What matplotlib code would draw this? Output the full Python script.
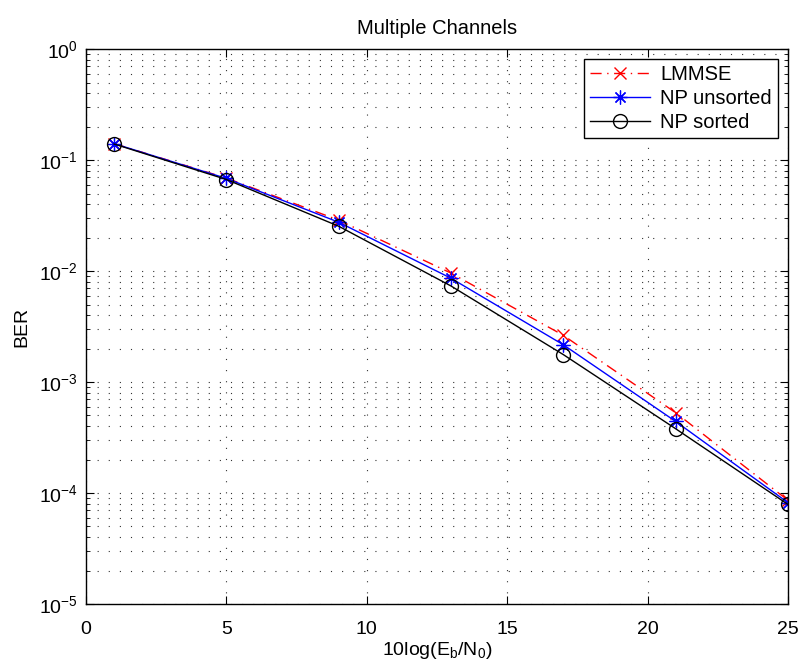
import matplotlib
matplotlib.use("Agg")
import matplotlib.pyplot as plt
from matplotlib.ticker import LogLocator, NullFormatter, FixedLocator

plt.rcParams['font.family'] = ['Liberation Sans', 'DejaVu Sans']
plt.rcParams['mathtext.fontset'] = 'custom'
plt.rcParams['mathtext.rm'] = 'Liberation Sans'
plt.rcParams['mathtext.it'] = 'Liberation Sans'

snr = [1, 5, 9, 13, 17, 21, 25]
ber_lmmse = [0.141, 0.069, 0.0288, 0.0096, 0.00264, 0.00053, 8.6e-5]
ber_np_unsorted = [0.141, 0.0685, 0.0276, 0.00863, 0.00217, 0.000442, 8.2e-5]
ber_np_sorted = [0.140, 0.067, 0.0254, 0.00735, 0.00177, 0.000380, 7.9e-5]
labels = ['LMMSE', 'NP unsorted', 'NP sorted']

fig = plt.figure(figsize=(8.04, 6.64), dpi=100)
ax = fig.add_axes([0.107, 0.0904, 0.873, 0.8354])

ax.semilogy(snr, ber_lmmse, color='red', linestyle='-.', marker='x', markersize=9,
            linewidth=1.0, markeredgewidth=1.0, label=labels[0],
            dashes=[8, 4, 1, 4])
ax.semilogy(snr, ber_np_unsorted, color='blue', linestyle='-', marker=(8, 2, 0), markersize=10,
            linewidth=1.0, markeredgewidth=0.9, label=labels[1])
ax.semilogy(snr, ber_np_sorted, color='black', linestyle='-', marker='o', markersize=10,
            linewidth=1.0, markeredgewidth=1.0, markerfacecolor='none', label=labels[2])

ax.set_xlim(0, 25)
ax.set_ylim(1e-5, 1e0)
ax.xaxis.set_major_locator(FixedLocator([0, 5, 10, 15, 20, 25]))
ax.yaxis.set_major_locator(LogLocator(base=10, numticks=10))
ax.yaxis.set_minor_locator(LogLocator(base=10, subs=range(2, 10), numticks=20))
ax.yaxis.set_minor_formatter(NullFormatter())

ax.grid(True, which='major', axis='both', linestyle=(0, (1, 9)), color='#333333', linewidth=0.8)
ax.grid(True, which='minor', axis='y', linestyle=(0, (1, 9)), color='#333333', linewidth=0.8)

ax.tick_params(which='both', direction='in', top=True, right=True, labelsize=14)
ax.tick_params(which='major', length=6, width=0.8)
ax.tick_params(which='minor', length=3, width=0.6)
ax.tick_params(axis='x', which='major', pad=12)
ax.tick_params(axis='y', which='major', pad=6)
for s in ax.spines.values():
    s.set_linewidth(1.0)

ax.set_title('Multiple Channels', fontsize=14.5, pad=11)
ax.set_xlabel(r'10log(E$_\mathregular{b}$/N$_\mathregular{0}$)', fontsize=14, labelpad=2)
ax.set_ylabel('BER', fontsize=14, labelpad=6)

leg = ax.legend(loc='upper right', fontsize=14.5, fancybox=False, framealpha=1,
                edgecolor='black', borderaxespad=0.5, handlelength=3.0,
                borderpad=0.3, labelspacing=0.25, handletextpad=0.5)
leg.get_frame().set_linewidth(1.0)

fig.savefig('out.png', dpi=100)
